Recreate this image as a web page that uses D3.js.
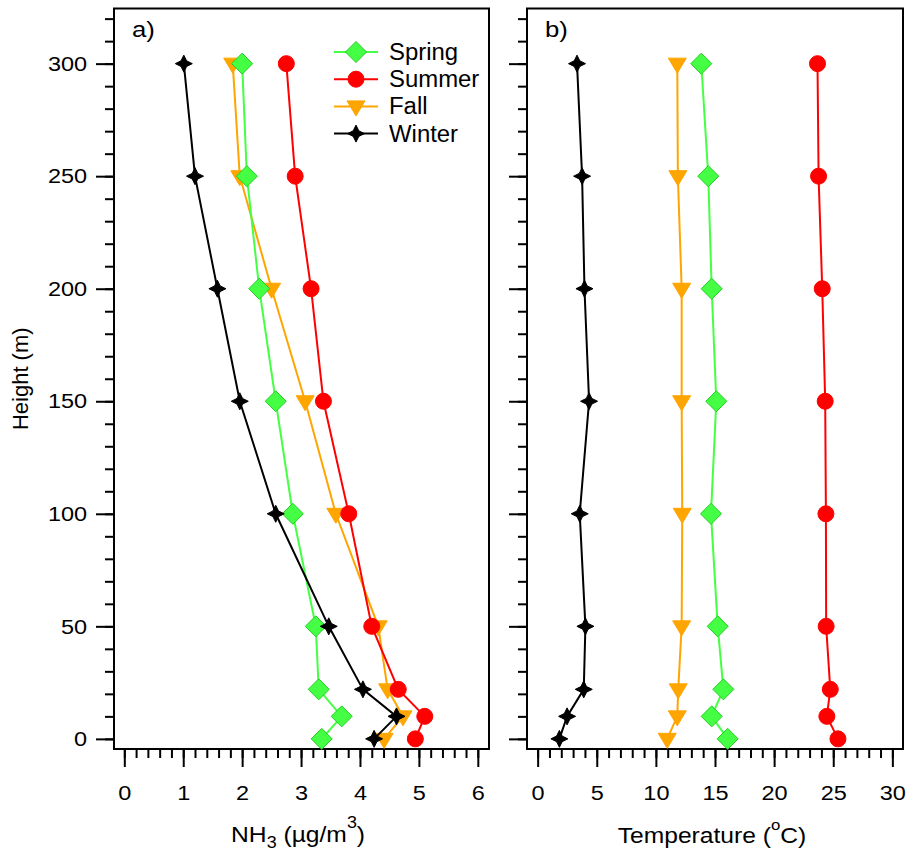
<!DOCTYPE html>
<html>
<head>
<meta charset="utf-8">
<script src="https://cdn.jsdelivr.net/npm/d3@7"></script>
<style>
  body { margin: 0; background: #fff; }
  text { font-family: "Liberation Sans", Arial, sans-serif; fill: #000; }
</style>
</head>
<body>
<div id="chart"></div>
<script>
// data
const heights = [0, 10, 22, 50, 100, 150, 200, 250, 300];
const seasons = ['Spring', 'Summer', 'Fall', 'Winter'];

const nh3Spring = [3.35, 3.69, 3.30, 3.25, 2.86, 2.57, 2.29, 2.08, 2.00];
const nh3Summer = [4.94, 5.10, 4.65, 4.20, 3.81, 3.38, 3.17, 2.90, 2.75];
const nh3Fall   = [4.41, 4.73, 4.47, 4.31, 3.59, 3.07, 2.50, 1.96, 1.84];
const nh3Winter = [4.24, 4.62, 4.05, 3.47, 2.57, 1.96, 1.58, 1.20, 1.01];

const tempSpring = [16.07, 14.72, 15.71, 15.23, 14.66, 15.11, 14.72, 14.43, 13.84];
const tempSummer = [25.40, 24.46, 24.75, 24.40, 24.38, 24.32, 24.07, 23.76, 23.67];
const tempFall   = [10.96, 11.81, 11.89, 12.18, 12.23, 12.18, 12.18, 11.86, 11.81];
const tempWinter = [1.84, 2.49, 3.90, 4.04, 3.56, 4.35, 3.96, 3.76, 3.33];

const yTicks = [0, 50, 100, 150, 200, 250, 300];
const nh3Ticks = [0, 1, 2, 3, 4, 5, 6];
const tempTicks = [0, 5, 10, 15, 20, 25, 30];

(function(){
  const W = 907, H = 852;
  const svg = d3.select('#chart').append('svg').attr('width', W).attr('height', H);

  const style = {
    Spring: { color: '#44ff44', fill: '#44ff44', stroke: '#22cc22', shape: 'diamond' },
    Summer: { color: '#ff0000', fill: '#ff0000', stroke: '#ff0000', shape: 'circle' },
    Fall:   { color: '#ffa500', fill: '#ffa500', stroke: '#ffa500', shape: 'tri' },
    Winter: { color: '#000000', fill: '#000000', stroke: '#000000', shape: 'star' }
  };
  const drawOrder = ['Fall', 'Spring', 'Summer', 'Winter'];
  const stretch = 'scale(1.12,1)'; // text in the original is a bit wide

  const top = 8.5, bottom = 749;
  const y = d3.scaleLinear().domain([-4.5, 324.5]).range([bottom, top]);

  function marker(sel, shape) {
    if (shape === 'circle') return sel.append('circle').attr('r', 8);
    let d;
    if (shape === 'diamond') d = 'M0,-10.5L10.5,0L0,10.5L-10.5,0Z';
    else if (shape === 'tri') d = 'M-9,-5.5L9,-5.5L0,9.5Z';
    else d = 'M0,-8.5L2.8,-2.8L8.5,0L2.8,2.8L0,8.5L-2.8,2.8L-8.5,0L-2.8,-2.8Z';
    return sel.append('path').attr('d', d);
  }

  function panel(cfg) {
    const x = d3.scaleLinear().domain(cfg.xDomain).range([cfg.left, cfg.right]);
    const g = svg.append('g');

    // y ticks (minor + major)
    const yMinor = d3.axisLeft(y).tickValues(d3.range(0, 321, 10)).tickSize(9).tickFormat('');
    const yMajor = d3.axisLeft(y).tickValues(yTicks).tickSize(18).tickPadding(6)
      .tickFormat(cfg.yLabels ? d3.format('d') : '');
    [yMinor, yMajor].forEach(ax => {
      const a = g.append('g').attr('transform', `translate(${cfg.left},0)`).call(ax);
      a.select('.domain').remove();
      a.selectAll('line').attr('stroke', '#000').attr('stroke-width', 2);
      a.selectAll('text').style('font-size', '21px').attr('font-family', null).attr('transform', stretch);
    });

    // x ticks
    const xMinor = d3.axisBottom(x).tickValues(d3.range(cfg.xTicks[0], cfg.xTicks[cfg.xTicks.length-1] + 1e-9, cfg.minorStep))
      .tickSize(9).tickFormat('');
    const xMajor = d3.axisBottom(x).tickValues(cfg.xTicks).tickSize(18).tickPadding(18).tickFormat(d3.format('d'));
    [xMinor, xMajor].forEach(ax => {
      const a = g.append('g').attr('transform', `translate(0,${bottom})`).call(ax);
      a.select('.domain').remove();
      a.selectAll('line').attr('stroke', '#000').attr('stroke-width', 2);
      a.selectAll('text').style('font-size', '21px').attr('font-family', null).attr('transform', stretch);
    });

    // frame
    g.append('rect').attr('x', cfg.left).attr('y', top)
      .attr('width', cfg.right - cfg.left).attr('height', bottom - top)
      .attr('fill', 'none').attr('stroke', '#000').attr('stroke-width', 2);

    g.append('text').attr('transform', `translate(${cfg.left + 18},37) ${stretch}`)
      .style('font-size', '23px').text(cfg.tag);

    const line = d3.line().x(d => x(d[0])).y(d => y(d[1]));
    drawOrder.forEach(s => {
      const st = style[s];
      const pts = cfg.series[s].map((v, i) => [v, heights[i]]);
      g.append('path').datum(pts).attr('d', line)
        .attr('fill', 'none').attr('stroke', st.color).attr('stroke-width', 2);
      pts.forEach(p => {
        const m = g.append('g').attr('transform', `translate(${x(p[0])},${y(p[1])})`);
        marker(m, st.shape).attr('fill', st.fill).attr('stroke', st.stroke).attr('stroke-width', 1);
      });
    });

    return x;
  }

  const xa = panel({
    left: 114, right: 489, xDomain: [-0.175, 6.19], xTicks: nh3Ticks, minorStep: 0.2,
    yLabels: true, tag: 'a)',
    series: { Spring: nh3Spring, Summer: nh3Summer, Fall: nh3Fall, Winter: nh3Winter }
  });
  const xb = panel({
    left: 527, right: 903, xDomain: [-0.9, 30.9], xTicks: tempTicks, minorStep: 1,
    yLabels: false, tag: 'b)',
    series: { Spring: tempSpring, Summer: tempSummer, Fall: tempFall, Winter: tempWinter }
  });

  // axis titles
  svg.append('text').attr('transform', `translate(28,${y(160)}) rotate(-90)`)
    .attr('text-anchor', 'middle').style('font-size', '22px').text('Height (m)');

  const t1 = svg.append('text').attr('transform', `translate(${xa(3) - 3},842) ${stretch}`)
    .attr('text-anchor', 'middle').style('font-size', '22px');
  t1.append('tspan').text('NH');
  t1.append('tspan').attr('dy', 6).style('font-size', '16px').text('3');
  t1.append('tspan').attr('dy', -6).text(' (µg/m');
  t1.append('tspan').attr('dy', -14).style('font-size', '16px').text('3');
  t1.append('tspan').attr('dy', 14).text(')');

  const t2 = svg.append('text').attr('transform', `translate(${xb(15) - 3},843) ${stretch}`)
    .attr('text-anchor', 'middle').style('font-size', '22px');
  t2.append('tspan').text('Temperature (');
  t2.append('tspan').attr('dy', -13).style('font-size', '15px').text('o');
  t2.append('tspan').attr('dy', 13).text('C)');

  // legend
  const leg = svg.append('g').attr('transform', 'translate(334,52)');
  seasons.forEach((s, i) => {
    const st = style[s];
    const r = leg.append('g').attr('transform', `translate(0,${i * 27.2})`);
    r.append('line').attr('x1', 0).attr('x2', 44).attr('stroke', st.color).attr('stroke-width', 2);
    const m = r.append('g').attr('transform', 'translate(22,0)');
    marker(m, st.shape).attr('fill', st.fill).attr('stroke', st.stroke).attr('stroke-width', 1);
    r.append('text').attr('transform', `translate(55,8) scale(1.04,1)`).style('font-size', '23px').text(s);
  });
})();
</script>
</body>
</html>
